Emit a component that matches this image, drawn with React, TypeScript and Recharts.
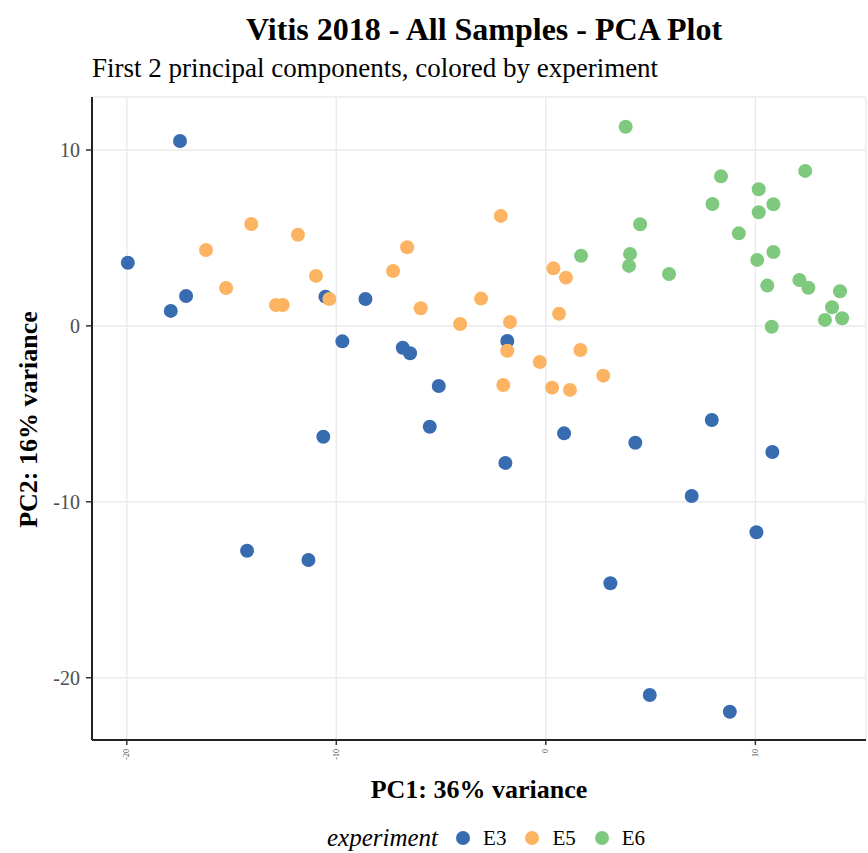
import { ScatterChart, Scatter, XAxis, YAxis, CartesianGrid, Label } from 'recharts';

// PC scores
const e3X = [-17.46, -19.95, -17.17, -17.9, -10.52, -8.61, -9.71, -6.83, -6.48, -5.11, -5.54, -10.62, -1.84, -1.93, 0.87, 4.27, 7.92, 10.81, 6.96, 10.05, 3.08, 4.96, 8.78, -14.26, -11.33];
const e3Y = [10.51, 3.59, 1.7, 0.85, 1.66, 1.53, -0.88, -1.24, -1.56, -3.42, -5.73, -6.3, -0.86, -7.79, -6.11, -6.64, -5.35, -7.17, -9.67, -11.73, -14.63, -20.98, -21.93, -12.78, -13.31];

const e5X = [-16.22, -14.06, -11.83, -15.26, -12.88, -12.56, -10.97, -10.33, -6.62, -7.29, -5.97, -4.09, -3.09, -2.15, 0.36, 0.96, 0.63, -1.71, -1.84, 1.65, -0.29, 2.74, -2.03, 0.3, 1.15];
const e5Y = [4.31, 5.79, 5.18, 2.15, 1.19, 1.19, 2.84, 1.53, 4.47, 3.12, 1.0, 0.11, 1.55, 6.25, 3.27, 2.74, 0.69, 0.22, -1.41, -1.37, -2.05, -2.83, -3.36, -3.51, -3.64];

const e6X = [3.81, 8.36, 12.38, 10.16, 7.95, 10.86, 10.16, 4.5, 9.21, 4.02, 1.68, 3.97, 10.86, 10.09, 5.88, 12.1, 12.53, 10.57, 14.04, 13.66, 13.32, 14.14, 10.78];
const e6Y = [11.32, 8.5, 8.81, 7.77, 6.93, 6.91, 6.46, 5.78, 5.26, 4.09, 3.99, 3.41, 4.2, 3.75, 2.95, 2.61, 2.17, 2.29, 1.97, 1.06, 0.34, 0.43, -0.05];

const xTicks = [-20, -10, 0, 10];
const yTicks = [-20, -10, 0, 10];

const groups = ['E3', 'E5', 'E6'];
const colors = ['#386cb0', '#fdb462', '#7fc97f'];

const toPoints = (xs: number[], ys: number[]) => xs.map((x, i) => ({ x, y: ys[i] }));
const series = [toPoints(e3X, e3Y), toPoints(e5X, e5Y), toPoints(e6X, e6Y)];

const FONT = '"Liberation Serif", "DejaVu Serif", serif';

const XTick = ({ x, y, payload }: any) => (
  <text
    x={x}
    y={y}
    transform={`rotate(-90, ${x}, ${y})`}
    textAnchor="end"
    dominantBaseline="central"
    fontSize={8}
    fontFamily={FONT}
    fill="#4d4d4d"
  >
    {payload.value}
  </text>
);

export default function App() {
  return (
    <div style={{ position: 'absolute', left: 0, top: 0, width: 868, height: 853, background: '#fff', fontFamily: FONT }}>
      <div style={{ position: 'absolute', left: 96, width: 776, top: 10, textAlign: 'center', fontSize: 32, fontWeight: 'bold', lineHeight: 1.2 }}>
        Vitis 2018 - All Samples - PCA Plot
      </div>
      <div style={{ position: 'absolute', left: 92, top: 52, fontSize: 27, lineHeight: 1.2, whiteSpace: 'nowrap' }}>
        First 2 principal components, colored by experiment
      </div>

      <ScatterChart width={868} height={853} margin={{ top: 97, right: 2, bottom: 0, left: 0 }}>
        <CartesianGrid stroke="#ebebeb" strokeWidth={1.5} />
        <XAxis
          type="number"
          dataKey="x"
          domain={[-21.66, 15.28]}
          ticks={xTicks}
          allowDataOverflow
          height={113}
          tick={<XTick />}
          tickSize={5}
          tickMargin={4}
          axisLine={{ stroke: '#222', strokeWidth: 2 }}
          tickLine={{ stroke: '#333', strokeWidth: 1.5 }}
        >
          <Label
            content={({ viewBox }: any) => (
              <text
                x={viewBox.x + viewBox.width / 2}
                y={viewBox.y + 58}
                textAnchor="middle"
                fontSize={26}
                fontWeight="bold"
                fontFamily={FONT}
                fill="#000"
              >
                PC1: 36% variance
              </text>
            )}
          />
        </XAxis>
        <YAxis
          type="number"
          dataKey="y"
          domain={[-23.54, 13.01]}
          ticks={yTicks}
          allowDataOverflow
          width={92}
          tickSize={6}
          tickMargin={6}
          tick={{ fontSize: 20, fill: '#4d4d4d', fontFamily: FONT }}
          axisLine={{ stroke: '#222', strokeWidth: 2 }}
          tickLine={{ stroke: '#333', strokeWidth: 1.5 }}
        >
          <Label
            content={({ viewBox }: any) => {
              const cx = viewBox.x + 28;
              const cy = viewBox.y + viewBox.height / 2 + 1;
              return (
                <text
                  x={cx}
                  y={cy}
                  transform={`rotate(-90, ${cx}, ${cy})`}
                  textAnchor="middle"
                  dominantBaseline="central"
                  fontSize={26}
                  fontWeight="bold"
                  fontFamily={FONT}
                  fill="#000"
                >
                  PC2: 16% variance
                </text>
              );
            }}
          />
        </YAxis>
        {series.map((pts, i) => (
          <Scatter
            key={groups[i]}
            name={groups[i]}
            data={pts}
            fill={colors[i]}
            isAnimationActive={false}
            shape={(p: any) => <circle cx={p.cx} cy={p.cy} r={7} fill={colors[i]} />}
          />
        ))}
      </ScatterChart>

      <div style={{ position: 'absolute', left: 327, top: 826, height: 24, display: 'flex', alignItems: 'center', fontSize: 21, lineHeight: '24px', whiteSpace: 'nowrap' }}>
        <span style={{ fontStyle: 'italic', fontSize: 25, marginRight: 18 }}>experiment</span>
        {groups.map((g, i) => (
          <span key={g} style={{ display: 'flex', alignItems: 'center', marginRight: 19 }}>
            <span style={{ width: 14, height: 14, borderRadius: 7, background: colors[i], marginRight: 13 }} />
            <span>{g}</span>
          </span>
        ))}
      </div>
    </div>
  );
}
